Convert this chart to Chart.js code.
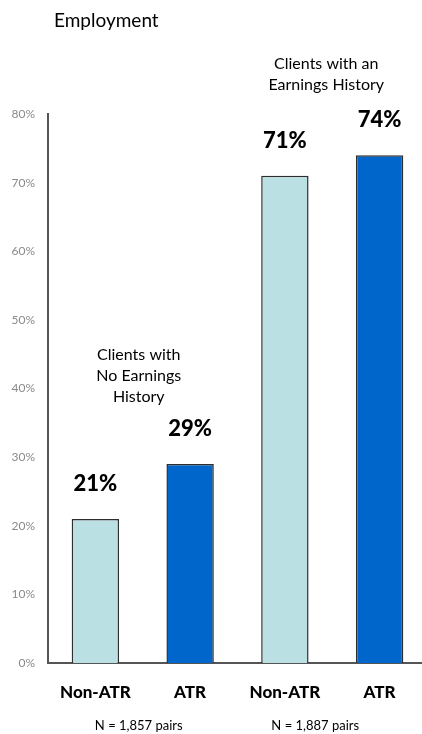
<!DOCTYPE html>
<html>
<head>
<meta charset="utf-8">
<title>Employment</title>
<script src="https://cdn.jsdelivr.net/npm/chart.js@4"></script>
<style>
    html, body { margin: 0; padding: 0; background: #fff; overflow: hidden; }
    canvas { display: block; }
</style>
</head>
<body>
<canvas id="employmentChart" width="428" height="734"></canvas>
<script>
// Chart data
const categories = ['Non-ATR', 'ATR', 'Non-ATR', 'ATR'];
const employment = [21, 29, 71, 74];
const groupNotes = ['N = 1,857 pairs', 'N = 1,887 pairs'];
const groupTitles = [
    ['Clients with', 'No Earnings', 'History'],
    ['Clients with an', 'Earnings History']
];
const chartTitle = 'Employment';

const FONT = 'Lato, "Open Sans", sans-serif';

// Draw title, annotations and bar value labels
const labelPlugin = {
    id: 'labelPlugin',
    afterDraw(chart) {
        const ctx = chart.ctx;
        const x = chart.scales.x;
        const meta = chart.getDatasetMeta(0);
        ctx.save();
        ctx.fillStyle = '#000';
        ctx.textBaseline = 'middle';

        // title
        ctx.textAlign = 'left';
        ctx.font = '19px ' + FONT;
        ctx.fillText(chartTitle, 54, 21);

        // values above bars
        ctx.textAlign = 'center';
        ctx.font = '900 22px ' + FONT;
        meta.data.forEach((bar, i) => {
            ctx.fillText(employment[i] + '%', bar.x, bar.y - 35);
        });

        // group titles
        ctx.font = '16px ' + FONT;
        const g1 = x.getPixelForValue(0.5) - 4;
        groupTitles[0].forEach((line, i) => ctx.fillText(line, g1, 355 + i * 21));
        const g2 = x.getPixelForValue(2.5) - 6;
        groupTitles[1].forEach((line, i) => ctx.fillText(line, g2, 64 + i * 21));

        // N notes
        ctx.font = '13px ' + FONT;
        ctx.fillText(groupNotes[0], x.getPixelForValue(0.5) - 4, 726);
        ctx.fillText(groupNotes[1], x.getPixelForValue(2.5) - 17, 726);
        ctx.restore();
    }
};

new Chart(document.getElementById('employmentChart'), {
    type: 'bar',
    data: {
        labels: categories,
        datasets: [{
            data: employment,
            backgroundColor: ['#bbe0e3', '#0066cc', '#bbe0e3', '#0066cc'],
            borderColor: '#2e2e2e',
            borderWidth: 1.5,
            barPercentage: 0.5,
            categoryPercentage: 1
        }]
    },
    options: {
        responsive: false,
        animation: false,
        layout: {
            padding: { top: 114, right: 1, bottom: 0, left: 0 }
        },
        plugins: {
            legend: { display: false },
            tooltip: { enabled: false }
        },
        scales: {
            x: {
                grid: { display: false, drawTicks: false },
                border: { display: true, color: '#555', width: 2 },
                ticks: {
                    color: '#000',
                    padding: 19,
                    font: { family: FONT, size: 17, weight: '900' }
                },
                afterFit: scale => { scale.height = 71; }
            },
            y: {
                min: 0,
                max: 80,
                grid: { display: false, drawTicks: false },
                border: { display: true, color: '#555', width: 2 },
                ticks: {
                    stepSize: 10,
                    color: '#8a8a8a',
                    padding: 13,
                    font: { family: FONT, size: 12 },
                    callback: value => value + '%'
                },
                afterFit: scale => { scale.width = 48; }
            }
        }
    },
    plugins: [labelPlugin]
});
</script>
</body>
</html>
